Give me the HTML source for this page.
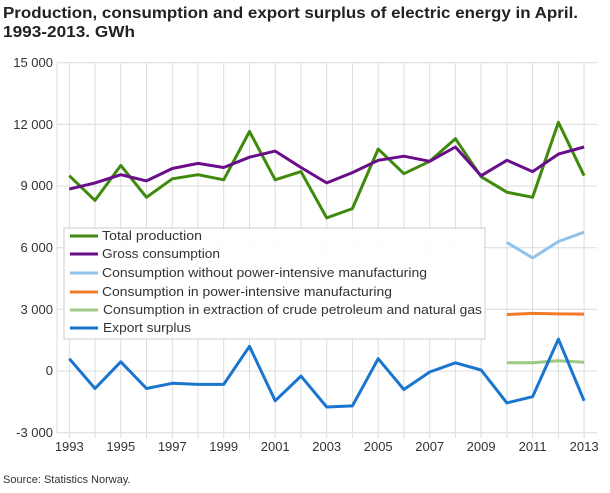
<!DOCTYPE html>
<html><head><meta charset="utf-8"><style>
body{margin:0;background:#fff;width:610px;height:488px;overflow:hidden;font-family:"Liberation Sans",sans-serif}
</style></head><body>
<svg width="610" height="488" xmlns="http://www.w3.org/2000/svg" font-family="Liberation Sans, sans-serif">
<text x="3" y="18" font-size="16" font-weight="bold" fill="#222" textLength="575" lengthAdjust="spacingAndGlyphs">Production, consumption and export surplus of electric energy in April.</text>
<text x="3" y="37" font-size="16" font-weight="bold" fill="#222" textLength="132" lengthAdjust="spacingAndGlyphs">1993-2013. GWh</text>
<g stroke="#dcdcdc" stroke-width="1">
<line x1="57" x2="597" y1="62.7" y2="62.7"/><line x1="57" x2="597" y1="124.3" y2="124.3"/><line x1="57" x2="597" y1="186" y2="186"/><line x1="57" x2="597" y1="247.7" y2="247.7"/><line x1="57" x2="597" y1="309.3" y2="309.3"/><line x1="57" x2="597" y1="371" y2="371"/><line x1="57" x2="597" y1="432.7" y2="432.7"/>
<line x1="57" x2="57" y1="62.7" y2="432.7"/>
<line x1="69.3" x2="69.3" y1="62.7" y2="438"/><line x1="95.0" x2="95.0" y1="62.7" y2="438"/><line x1="120.8" x2="120.8" y1="62.7" y2="438"/><line x1="146.5" x2="146.5" y1="62.7" y2="438"/><line x1="172.3" x2="172.3" y1="62.7" y2="438"/><line x1="198.0" x2="198.0" y1="62.7" y2="438"/><line x1="223.7" x2="223.7" y1="62.7" y2="438"/><line x1="249.5" x2="249.5" y1="62.7" y2="438"/><line x1="275.2" x2="275.2" y1="62.7" y2="438"/><line x1="301.0" x2="301.0" y1="62.7" y2="438"/><line x1="326.7" x2="326.7" y1="62.7" y2="438"/><line x1="352.4" x2="352.4" y1="62.7" y2="438"/><line x1="378.2" x2="378.2" y1="62.7" y2="438"/><line x1="403.9" x2="403.9" y1="62.7" y2="438"/><line x1="429.7" x2="429.7" y1="62.7" y2="438"/><line x1="455.4" x2="455.4" y1="62.7" y2="438"/><line x1="481.1" x2="481.1" y1="62.7" y2="438"/><line x1="506.9" x2="506.9" y1="62.7" y2="438"/><line x1="532.6" x2="532.6" y1="62.7" y2="438"/><line x1="558.4" x2="558.4" y1="62.7" y2="438"/><line x1="584.1" x2="584.1" y1="62.7" y2="438"/>
</g>
<g font-size="13" fill="#333" text-anchor="end">
<text x="53" y="67">15 000</text><text x="53" y="129">12 000</text><text x="53" y="190">9 000</text><text x="53" y="252">6 000</text><text x="53" y="314">3 000</text><text x="53" y="375">0</text><text x="53" y="437">-3 000</text>
</g>
<g font-size="13" fill="#333" text-anchor="middle">
<text x="69.3" y="451">1993</text><text x="120.8" y="451">1995</text><text x="172.3" y="451">1997</text><text x="223.7" y="451">1999</text><text x="275.2" y="451">2001</text><text x="326.7" y="451">2003</text><text x="378.2" y="451">2005</text><text x="429.7" y="451">2007</text><text x="481.1" y="451">2009</text><text x="532.6" y="451">2011</text><text x="584.1" y="451">2013</text>
</g>
<g fill="none" stroke-width="3" stroke-linejoin="round">
<polyline stroke="#3f8a0c" points="69.3,175.7 95.0,200.4 120.8,165.4 146.5,197.3 172.3,178.8 198.0,174.7 223.7,179.8 249.5,131.5 275.2,179.8 301.0,171.6 326.7,217.9 352.4,208.6 378.2,149.0 403.9,173.7 429.7,161.3 455.4,138.7 481.1,176.7 506.9,192.2 532.6,197.3 558.4,122.3 584.1,175.7"/>
<polyline stroke="#6a0d8a" points="69.3,189.1 95.0,182.9 120.8,174.7 146.5,180.9 172.3,168.5 198.0,163.4 223.7,167.5 249.5,157.2 275.2,151.1 301.0,167.5 326.7,182.9 352.4,172.6 378.2,160.3 403.9,156.2 429.7,161.3 455.4,147.0 481.1,175.7 506.9,160.3 532.6,171.6 558.4,154.1 584.1,147.0"/>
<polyline stroke="#91c2ea" points="506.9,242.5 532.6,257.9 558.4,241.5 584.1,232.2"/>
<polyline stroke="#f07b2a" points="506.9,314.5 532.6,313.4 558.4,313.9 584.1,314.1"/>
<polyline stroke="#9dc985" points="506.9,362.8 532.6,362.8 558.4,360.7 584.1,362.2"/>
<polyline stroke="#1a75cf" points="69.3,358.7 95.0,388.5 120.8,361.8 146.5,388.5 172.3,383.3 198.0,384.4 223.7,384.4 249.5,346.3 275.2,400.8 301.0,376.1 326.7,407.0 352.4,405.9 378.2,358.7 403.9,389.5 429.7,372.0 455.4,362.8 481.1,370.0 506.9,402.9 532.6,396.7 558.4,339.1 584.1,400.8"/>
</g>
<rect x="64" y="228" width="421" height="111" fill="#fff" fill-opacity="0.9" stroke="#ccc"/>
<g stroke-width="3">
<line x1="70" x2="98" y1="236" y2="236" stroke="#3f8a0c"/>
<line x1="70" x2="98" y1="254" y2="254" stroke="#6a0d8a"/>
<line x1="70" x2="98" y1="273" y2="273" stroke="#91c2ea"/>
<line x1="70" x2="98" y1="292" y2="292" stroke="#f07b2a"/>
<line x1="70" x2="98" y1="310" y2="310" stroke="#9dc985"/>
<line x1="70" x2="98" y1="328" y2="328" stroke="#1a75cf"/>
</g>
<g font-size="13" fill="#333">
<text x="102" y="240" textLength="100" lengthAdjust="spacingAndGlyphs">Total production</text>
<text x="102" y="258" textLength="118" lengthAdjust="spacingAndGlyphs">Gross consumption</text>
<text x="102" y="277" textLength="325" lengthAdjust="spacingAndGlyphs">Consumption without power-intensive manufacturing</text>
<text x="102" y="296" textLength="290" lengthAdjust="spacingAndGlyphs">Consumption in power-intensive manufacturing</text>
<text x="103" y="314" textLength="379" lengthAdjust="spacingAndGlyphs">Consumption in extraction of crude petroleum and natural gas</text>
<text x="103" y="332" textLength="88" lengthAdjust="spacingAndGlyphs">Export surplus</text>
</g>
<text x="3" y="483" font-size="11" fill="#333">Source: Statistics Norway.</text>
</svg>
</body></html>
